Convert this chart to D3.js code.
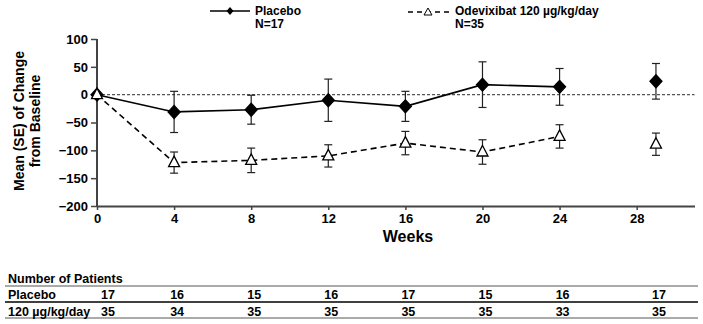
<!DOCTYPE html>
<html lang="en">
<head>
<meta charset="utf-8">
<title>Mean Change from Baseline</title>
<style>
  body { margin: 0; background: #fff; }
  svg { font-family: "Liberation Sans", Arial, sans-serif; font-weight: bold; }
</style>
</head>
<body>
<script src="https://cdn.jsdelivr.net/npm/d3@7"></script>
<script>

// data
var weeks = [0, 4, 8, 12, 16, 20, 24, 29];
var placeboMean = [0, -31, -27, -10, -21, 18, 14, 24];
var placeboSE   = [0, 37, 26, 38, 27, 41, 33, 32];
var odevMean = [0, -122, -118, -110, -87, -103, -75, -89];
var odevSE   = [0, 19, 22, 20, 21, 22, 21, 20];
var xTicks = [0, 4, 8, 12, 16, 20, 24, 28];
var yTicks = [100, 50, 0, -50, -100, -150, -200];
var nPlacebo = [17, 16, 15, 16, 17, 15, 16, 17];
var nOdev = [35, 34, 35, 35, 35, 35, 33, 35];

var width = 703, height = 324;

var svg = d3.select("body").append("svg").attr("width", width).attr("height", height);

var x = d3.scaleLinear().domain([0, 31]).range([97, 694.5]);
var y = d3.scaleLinear().domain([-200, 100]).range([206, 39]);

// dashed zero line
svg.append("line")
  .attr("x1", x(0)).attr("x2", x(31))
  .attr("y1", y(0)).attr("y2", y(0))
  .attr("stroke", "#555").attr("stroke-width", 1.2)
  .attr("stroke-dasharray", "3,2");

// axes
var yAxis = svg.append("g")
  .attr("transform", "translate(" + x(0) + ",0)")
  .call(d3.axisLeft(y).tickValues(yTicks).tickSize(6).tickPadding(3));
var xAxis = svg.append("g")
  .attr("transform", "translate(0," + y(-200) + ")")
  .call(d3.axisBottom(x).tickValues(xTicks).tickSize(4).tickPadding(4).tickSizeOuter(0));

[xAxis, yAxis].forEach(function (g) {
  g.select(".domain").attr("stroke", "#444").attr("stroke-width", 2);
  g.selectAll(".tick line").attr("stroke", "#444").attr("stroke-width", 1.5);
  g.selectAll(".tick text")
    .attr("fill", "#000")
    .style("font-size", "13px")
    .style("font-weight", "bold")
    .style("font-family", "'Liberation Sans', Arial, sans-serif");
});
yAxis.select(".domain").attr("d", "M0," + y(100) + "V" + y(-200));

// axis labels
svg.append("text")
  .attr("transform", "translate(24,121) rotate(-90)")
  .attr("text-anchor", "middle")
  .style("font-size", "14px")
  .text("Mean (SE) of Change");
svg.append("text")
  .attr("transform", "translate(40,121) rotate(-90)")
  .attr("text-anchor", "middle")
  .style("font-size", "14px")
  .text("from Baseline");
svg.append("text")
  .attr("x", 408).attr("y", 242)
  .attr("text-anchor", "middle")
  .style("font-size", "16px")
  .text("Weeks");

// markers
var diamond = "M0,-6.5L6,0L0,6.5L-6,0Z";
var triangle = "M0,-6.5L5.5,4L-5.5,4Z";

function drawSeries(mean, se, dash, marker, fill) {
  var pts = weeks.map(function (w, i) { return { w: w, m: mean[i], s: se[i] }; });
  var linePts = pts.filter(function (d) { return d.w <= 24; });

  svg.append("path")
    .datum(linePts)
    .attr("fill", "none")
    .attr("stroke", "#000")
    .attr("stroke-width", 1.6)
    .attr("stroke-dasharray", dash)
    .attr("d", d3.line().x(function (d) { return x(d.w); }).y(function (d) { return y(d.m); }));

  var eb = svg.append("g").selectAll("g")
    .data(pts.filter(function (d) { return d.s > 0; }))
    .enter().append("g")
    .attr("stroke", "#222").attr("stroke-width", 1.2);
  eb.append("line")
    .attr("x1", function (d) { return x(d.w); }).attr("x2", function (d) { return x(d.w); })
    .attr("y1", function (d) { return y(d.m + d.s); }).attr("y2", function (d) { return y(d.m - d.s); });
  eb.append("line")
    .attr("x1", function (d) { return x(d.w) - 4; }).attr("x2", function (d) { return x(d.w) + 4; })
    .attr("y1", function (d) { return y(d.m + d.s); }).attr("y2", function (d) { return y(d.m + d.s); });
  eb.append("line")
    .attr("x1", function (d) { return x(d.w) - 4; }).attr("x2", function (d) { return x(d.w) + 4; })
    .attr("y1", function (d) { return y(d.m - d.s); }).attr("y2", function (d) { return y(d.m - d.s); });

  svg.append("g").selectAll("path")
    .data(pts)
    .enter().append("path")
    .attr("d", marker)
    .attr("transform", function (d) { return "translate(" + x(d.w) + "," + y(d.m) + ")"; })
    .attr("fill", fill)
    .attr("stroke", "#000")
    .attr("stroke-width", 1.3);
}

drawSeries(placeboMean, placeboSE, null, diamond, "#000");
drawSeries(odevMean, odevSE, "6,4", triangle, "#fff");

// legend
var leg = svg.append("g");
leg.append("line").attr("x1", 210).attr("x2", 250).attr("y1", 11).attr("y2", 11)
  .attr("stroke", "#000").attr("stroke-width", 1.6);
leg.append("path").attr("d", "M0,-4L3.5,0L0,4L-3.5,0Z").attr("transform", "translate(230,11)").attr("fill", "#000");
leg.append("text").attr("x", 255).attr("y", 15).style("font-size", "12px").text("Placebo");
leg.append("text").attr("x", 255).attr("y", 28).style("font-size", "12px").text("N=17");

leg.append("line").attr("x1", 408).attr("x2", 450).attr("y1", 12).attr("y2", 12)
  .attr("stroke", "#000").attr("stroke-width", 1.3).attr("stroke-dasharray", "5,4");
leg.append("path").attr("d", "M0,-4L4,3L-4,3Z").attr("transform", "translate(428,12)")
  .attr("fill", "#fff").attr("stroke", "#000").attr("stroke-width", 1);
leg.append("text").attr("x", 455).attr("y", 15).style("font-size", "12px").text("Odevixibat 120 µg/kg/day");
leg.append("text").attr("x", 455).attr("y", 28).style("font-size", "12px").text("N=35");

// number of patients table
var tbl = svg.append("g").style("font-size", "12.5px");
tbl.append("text").attr("x", 8).attr("y", 283).text("Number of Patients");
tbl.append("line").attr("x1", 5).attr("x2", 698).attr("y1", 286).attr("y2", 286)
  .attr("stroke", "#aaa").attr("stroke-width", 2);
tbl.append("line").attr("x1", 5).attr("x2", 698).attr("y1", 302).attr("y2", 302)
  .attr("stroke", "#000").attr("stroke-width", 1.5);
tbl.append("line").attr("x1", 5).attr("x2", 698).attr("y1", 318).attr("y2", 318)
  .attr("stroke", "#aaa").attr("stroke-width", 2);
tbl.append("text").attr("x", 8).attr("y", 299).text("Placebo");
tbl.append("text").attr("x", 8).attr("y", 316).text("120 µg/kg/day");

function colX(w, i) { return x(w) + (i === 0 ? 11 : 3); }

tbl.append("g").selectAll("text").data(nPlacebo).enter().append("text")
  .attr("x", function (d, i) { return colX(weeks[i], i); })
  .attr("y", 299).attr("text-anchor", "middle").text(function (d) { return d; });
tbl.append("g").selectAll("text").data(nOdev).enter().append("text")
  .attr("x", function (d, i) { return colX(weeks[i], i); })
  .attr("y", 316).attr("text-anchor", "middle").text(function (d) { return d; });

</script>
</body>
</html>
